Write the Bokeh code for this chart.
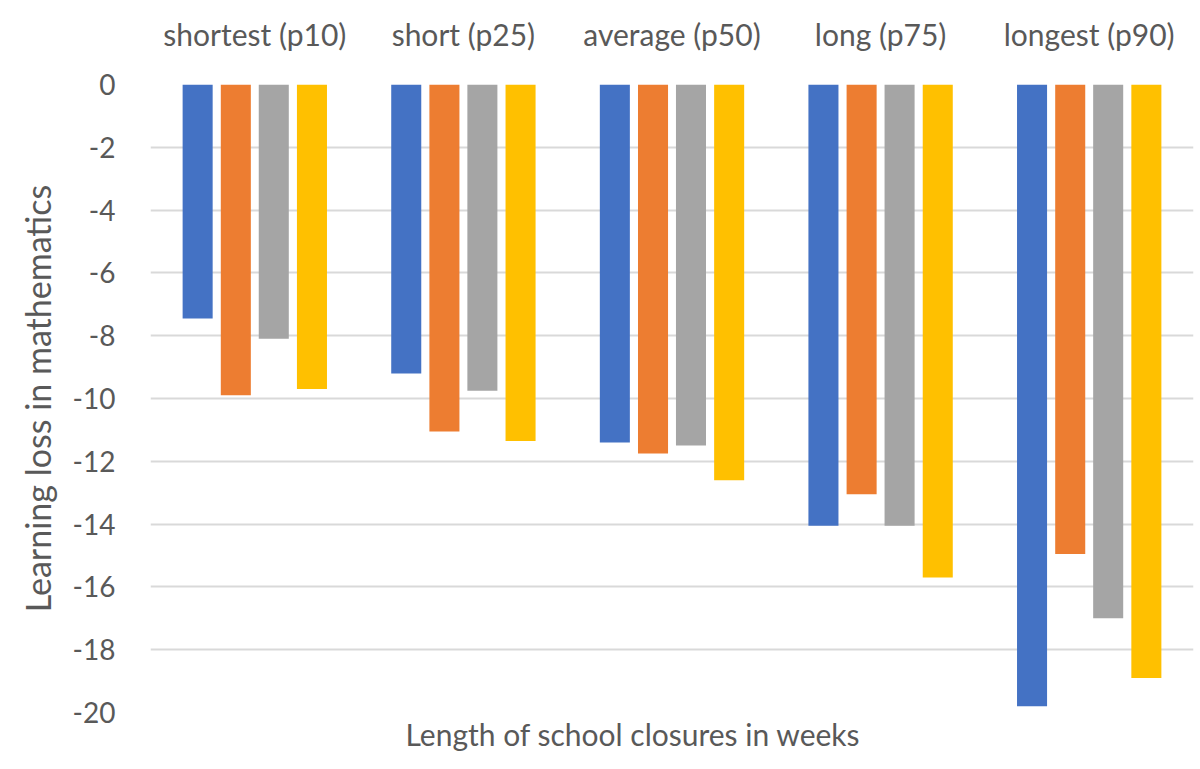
from bokeh.plotting import figure
from bokeh.models import ColumnDataSource, FactorRange, Range1d, FixedTicker, Title
from bokeh.transform import dodge
from bokeh.embed import file_html
from bokeh.resources import INLINE

# Closure length groups (percentiles of weeks closed)
categories = ["shortest (p10)", "short (p25)", "average (p50)", "long (p75)", "longest (p90)"]

# Estimated learning loss in mathematics for four series
series_1 = [-7.45, -9.2, -11.4, -14.05, -19.8]
series_2 = [-9.9, -11.05, -11.75, -13.05, -14.95]
series_3 = [-8.1, -9.75, -11.5, -14.05, -17.0]
series_4 = [-9.7, -11.35, -12.6, -15.7, -18.9]

y_ticks = [0, -2, -4, -6, -8, -10, -12, -14, -16, -18, -20]
y_tick_labels = ["0", "-2", "-4", "-6", "-8", "-10", "-12", "-14", "-16", "-18", "-20"]

colors = ["#4472C4", "#ED7D31", "#A5A5A5", "#FFC000"]
offsets = [-0.274, -0.091, 0.091, 0.274]
text_color = "#595959"
font = "Lato"

source = ColumnDataSource(dict(cat=categories, s1=series_1, s2=series_2,
                               s3=series_3, s4=series_4))

p = figure(width=1200, height=769, x_range=FactorRange(*categories),
           y_range=Range1d(-20, 0), x_axis_location="above",
           output_backend="svg", toolbar_location=None,
           min_border_top=84, min_border_left=150, min_border_right=7,
           min_border_bottom=57)

for col, c, off in zip(["s1", "s2", "s3", "s4"], colors, offsets):
    p.vbar(x=dodge("cat", off, range=p.x_range), top=col, bottom=0,
           width=0.144, source=source, fill_color=c, line_color=None)

p.outline_line_color = None
p.background_fill_color = "white"
p.border_fill_color = "white"

p.xgrid.grid_line_color = None
p.ygrid.grid_line_color = "#D9D9D9"
p.ygrid.grid_line_width = 2

xa = p.xaxis[0]
xa.axis_line_color = None
xa.major_tick_line_color = None
xa.minor_tick_line_color = None
xa.major_label_text_font = font
xa.major_label_text_font_size = "30px"
xa.major_label_text_color = text_color
xa.major_label_standoff = 27

ya = p.yaxis[0]
ya.ticker = FixedTicker(ticks=y_ticks)
ya.major_label_overrides = dict(zip(y_ticks, y_tick_labels))
ya.axis_line_color = None
ya.major_tick_line_color = None
ya.minor_tick_line_color = None
ya.major_label_text_font = font
ya.major_label_text_font_size = "28px"
ya.major_label_text_color = text_color
ya.major_label_standoff = 29
ya.axis_label = "Learning loss in mathematics"
ya.axis_label_text_font = font
ya.axis_label_text_font_size = "34px"
ya.axis_label_text_font_style = "normal"
ya.axis_label_text_color = text_color
ya.axis_label_standoff = 12

p.add_layout(Title(text="Length of school closures in weeks", align="left", offset=255,
                   standoff=2, text_font=font, text_font_size="30px",
                   text_font_style="normal", text_color=text_color), "below")

open("out.html", "w").write(file_html(p, INLINE))
